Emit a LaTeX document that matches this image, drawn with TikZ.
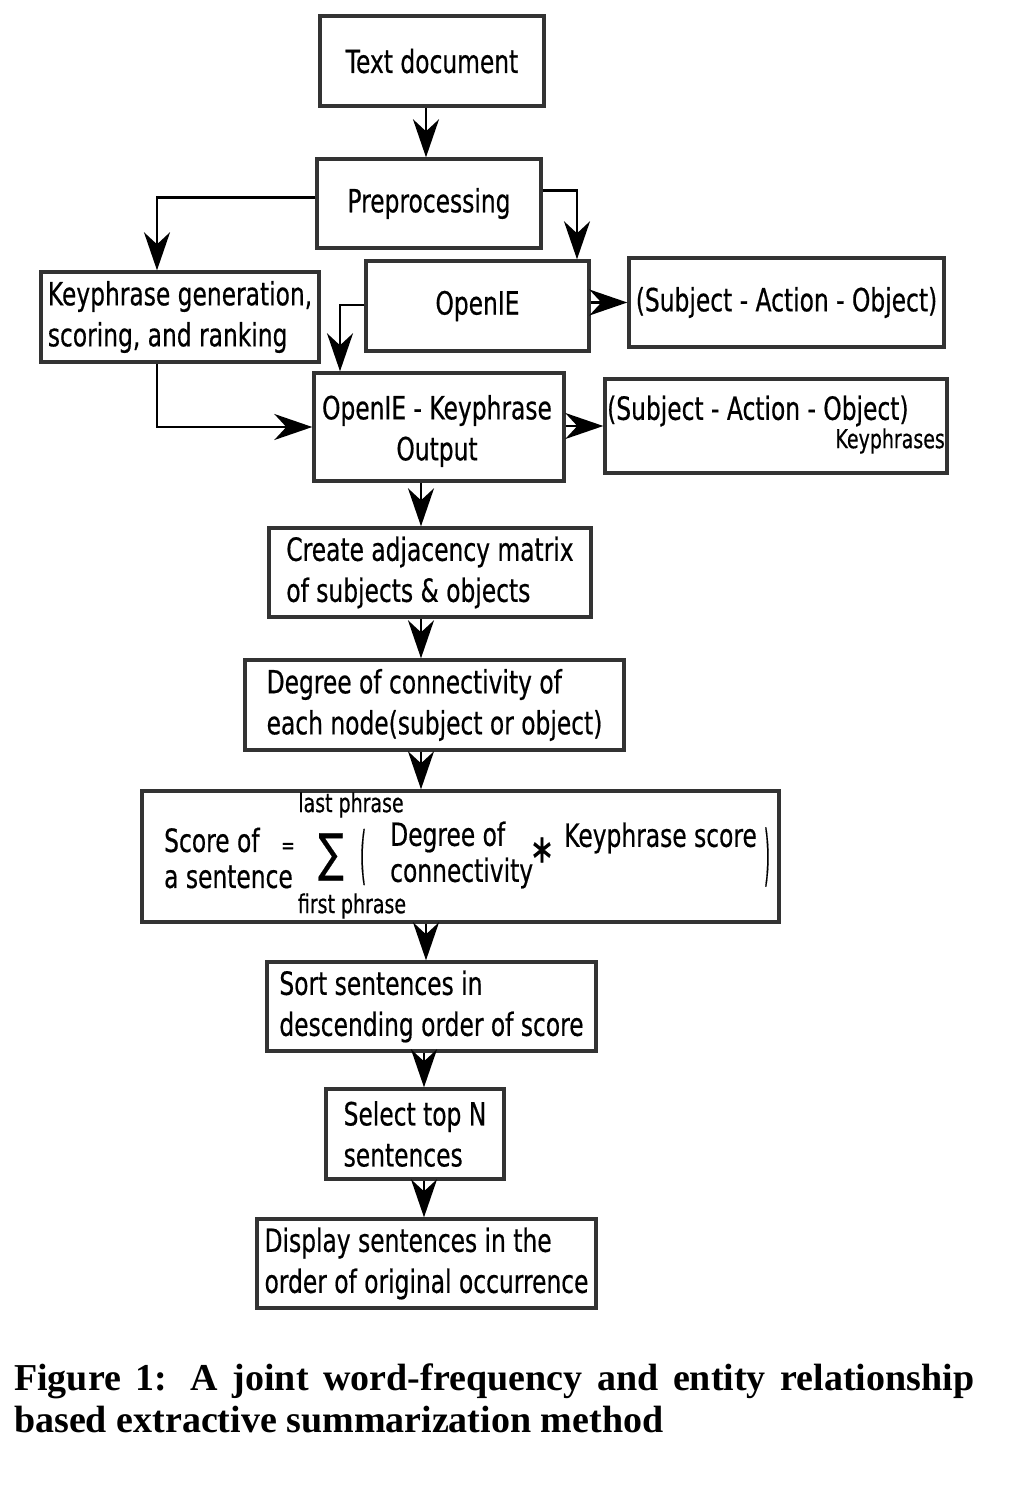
\documentclass[tikz,border=0pt]{standalone}
\usepackage{fontspec}
\setmainfont{DejaVu Sans}[FakeStretch=0.73,FakeBold=0.5]
\newfontfamily\capfont{Liberation Serif}
\usetikzlibrary{arrows.meta}
\tikzset{
 box/.style={draw=black!80, line width=3.4pt, inner sep=0pt, align=left, font=\fontsize{32}{41}\selectfont},
 conn/.style={draw=black, line width=2.2pt, -{Stealth[length=38pt,width=26pt,inset=12pt]}},
 lbl/.style={inner sep=0pt, align=left, font=\fontsize{32}{36}\selectfont},
 smalltxt/.style={inner sep=0pt, font=\fontsize{26}{28}\selectfont},
 captxt/.style={inner sep=0pt, anchor=base west, font=\capfont\bfseries\fontsize{38}{42}\selectfont},
}
\begin{document}
\begin{tikzpicture}[x=1pt,y=-1pt]
\fill[white] (0,0) rectangle (1014,1493);
\useasboundingbox (0,0) rectangle (1014,1493);

\node[box, minimum width=224pt, minimum height=90pt] (txt) at (432,61) {Text document};
\node[box, minimum width=224pt, minimum height=89pt] (pre) at (429,203.5) {Preprocessing};
\node[box, minimum width=278pt, minimum height=90pt] (kp) at (180,317) {Keyphrase generation,\\scoring, and ranking};
\node[box, minimum width=223pt, minimum height=90pt] (oie) at (477.5,306) {OpenIE};
\node[box, minimum width=315pt, minimum height=89pt] (sao1) at (786.5,302.5) {(Subject - Action - Object)};
\node[box, minimum width=250pt, minimum height=108pt] (out) at (439,427) {};
\node[lbl, align=center, font=\fontsize{32}{41}\selectfont] (outt) at (437,431) {OpenIE - Keyphrase\\Output};
\node[box, minimum width=342pt, minimum height=94pt] (sao2) at (776,426) {};
\node[lbl, anchor=west] (sao2a) at (607,411) {(Subject - Action - Object)};
\node[smalltxt, anchor=east] (sao2b) at (945,441) {Keyphrases};
\node[box, minimum width=322pt, minimum height=89pt] (cr) at (430,572.5) {Create adjacency matrix\\of subjects \& objects};
\node[box, minimum width=379pt, minimum height=90pt] (deg) at (434.5,705) {Degree of connectivity of\\each node(subject or object)};
\node[box, minimum width=637pt, minimum height=131pt] (sc) at (460.5,856.5) {};
\node[box, minimum width=329pt, minimum height=89pt] (sort) at (431.5,1006.5) {Sort sentences in\\descending order of score};
\node[box, minimum width=178pt, minimum height=90pt] (sel) at (415,1134) {Select top N\\sentences};
\node[box, minimum width=339pt, minimum height=89pt] (disp) at (426.5,1263.5) {Display sentences in the\\order of original occurrence};

% score formula
\node[lbl, anchor=west] (s1) at (164,858) {Score of\\a sentence};
\node[inner sep=0pt, font=\fontsize{22}{24}\selectfont] (eq) at (288,848) {=};
\node[inner sep=0pt, font=\fontsize{52}{56}\selectfont] (sig) at (331,857) {∑};
\node[smalltxt] (lp) at (351,805) {last phrase};
\node[smalltxt] (fp) at (352,906) {first phrase};
\node[inner sep=0pt, font=\fontsize{30}{32}\selectfont] (lpar) at (363,857) {\scalebox{0.7}[2.1]{(}};
\node[lbl, anchor=west] (s2) at (390,855) {Degree of\\connectivity};
\node[inner sep=0pt, font=\fontsize{40}{44}\selectfont] (ast) at (542,850) {∗};
\node[lbl, anchor=west] (s3) at (564,838) {Keyphrase score};
\node[inner sep=0pt, font=\fontsize{30}{32}\selectfont] (rpar) at (767,857) {\scalebox{0.7}[2.2]{)}};

% connectors
\draw[conn] ([xshift=-6pt]txt.south) -- ([xshift=-6pt]txt.south |- pre.north);
\draw[conn] ([yshift=6pt]pre.west) -| ([xshift=-23pt]kp.north);
\draw[conn] ([yshift=13pt]pre.east) -| ([xshift=99.5pt]oie.north);
\draw[conn] (oie.east |- sao1.west) -- (sao1.west);
\draw[conn] ([yshift=1pt]oie.west) -| ([xshift=-99pt]out.north);
\draw[conn] ([xshift=-23pt]kp.south) |- (out.west);
\draw[conn] (out.east |- sao2.west) -- (sao2.west);
\draw[conn] ([xshift=-18pt]out.south) -- ([xshift=-18pt]out.south |- cr.north);
\draw[conn] ([xshift=-9pt]cr.south) -- ([xshift=-9pt]cr.south |- deg.north);
\draw[conn] ([xshift=-13.5pt]deg.south) -- ([xshift=-13.5pt]deg.south |- sc.north);
\draw[conn] ([xshift=-5.5pt]sort.north |- sc.south) -- ([xshift=-5.5pt]sort.north);
\draw[conn] ([xshift=9pt]sel.north |- sort.south) -- ([xshift=9pt]sel.north);
\draw[conn] ([xshift=-2.5pt]disp.north |- sel.south) -- ([xshift=-2.5pt]disp.north);

% caption
\node[captxt] (cap1) at (14,1390) {\makebox[960pt][s]{Figure 1: A joint word-frequency and entity relationship}};
\node[captxt] (cap2) at (14,1432) {based extractive summarization method};
\end{tikzpicture}
\end{document}
